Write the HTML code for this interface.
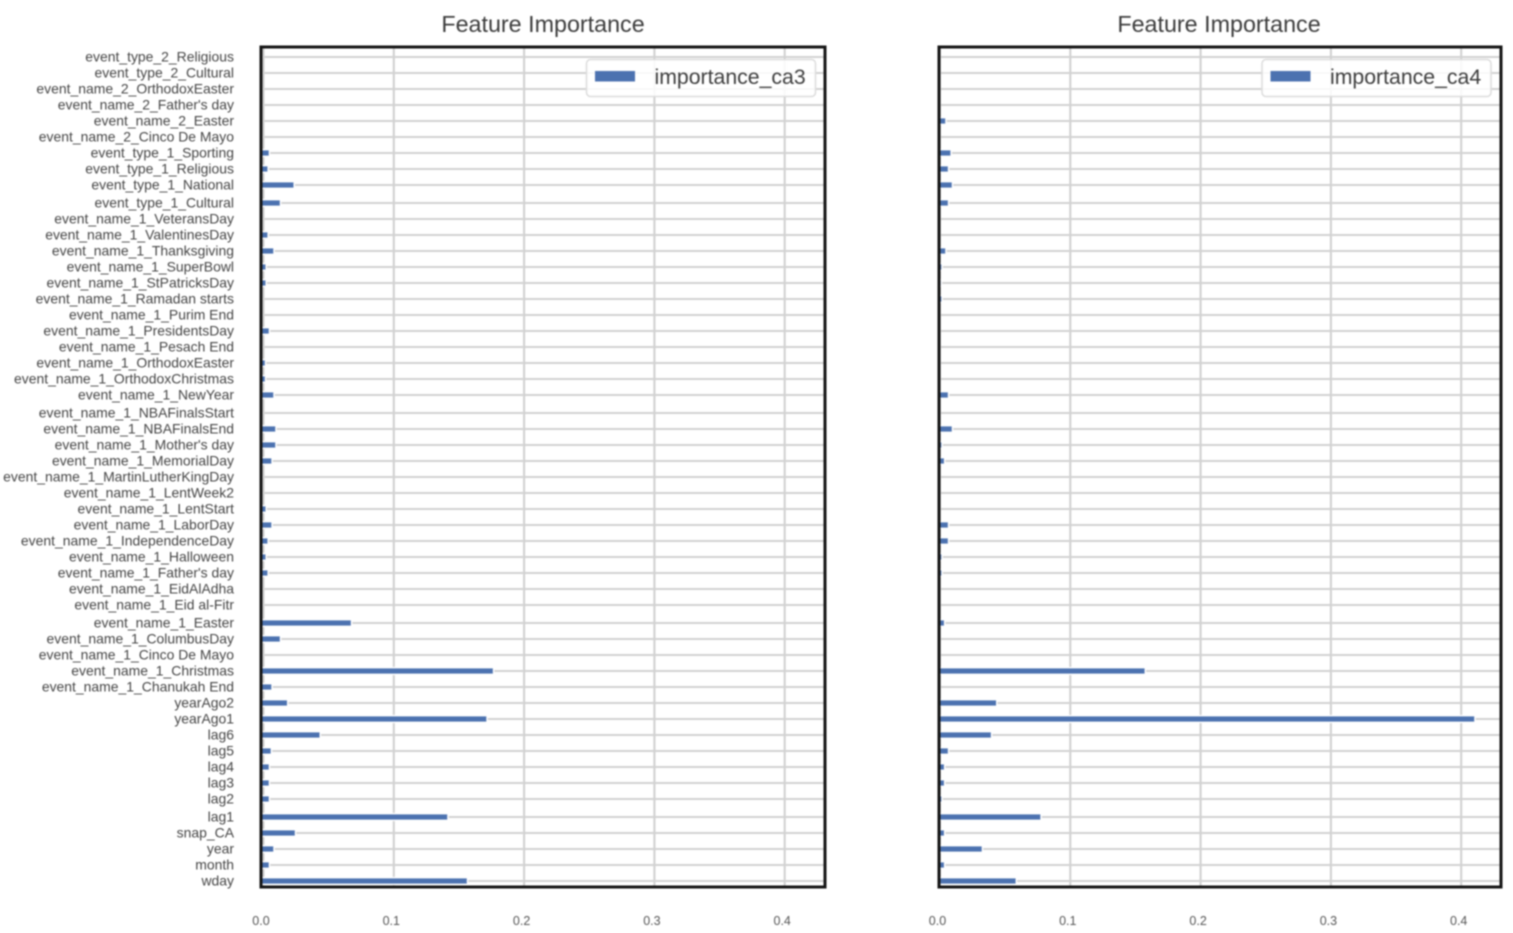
<!DOCTYPE html>
<html>
<head>
<meta charset="utf-8">
<title>Feature Importance</title>
<style>
html,body{margin:0;padding:0;background:#fff;width:1513px;height:933px;overflow:hidden}
svg{display:block;filter:blur(0.7px)}
text{font-family:"Liberation Sans",sans-serif}
</style>
</head>
<body>
<svg id="figure" xmlns="http://www.w3.org/2000/svg" width="1513" height="933" viewBox="0 0 1513 933"></svg>
<script>
const categories = ["event_type_2_Religious","event_type_2_Cultural","event_name_2_OrthodoxEaster","event_name_2_Father's day","event_name_2_Easter","event_name_2_Cinco De Mayo","event_type_1_Sporting","event_type_1_Religious","event_type_1_National","event_type_1_Cultural","event_name_1_VeteransDay","event_name_1_ValentinesDay","event_name_1_Thanksgiving","event_name_1_SuperBowl","event_name_1_StPatricksDay","event_name_1_Ramadan starts","event_name_1_Purim End","event_name_1_PresidentsDay","event_name_1_Pesach End","event_name_1_OrthodoxEaster","event_name_1_OrthodoxChristmas","event_name_1_NewYear","event_name_1_NBAFinalsStart","event_name_1_NBAFinalsEnd","event_name_1_Mother's day","event_name_1_MemorialDay","event_name_1_MartinLutherKingDay","event_name_1_LentWeek2","event_name_1_LentStart","event_name_1_LaborDay","event_name_1_IndependenceDay","event_name_1_Halloween","event_name_1_Father's day","event_name_1_EidAlAdha","event_name_1_Eid al-Fitr","event_name_1_Easter","event_name_1_ColumbusDay","event_name_1_Cinco De Mayo","event_name_1_Christmas","event_name_1_Chanukah End","yearAgo2","yearAgo1","lag6","lag5","lag4","lag3","lag2","lag1","snap_CA","year","month","wday"];
const importanceCa3 = [0,0,0,0,0,0,0.004,0.003,0.023,0.0125,0,0.003,0.0075,0.0015,0.0015,0,0,0.004,0,0.001,0.001,0.0075,0,0.009,0.009,0.006,0,0,0.0015,0.006,0.003,0.0015,0.003,0,0,0.067,0.0125,0,0.176,0.006,0.018,0.171,0.043,0.0055,0.004,0.004,0.004,0.141,0.024,0.0075,0.004,0.156];
const importanceCa4 = [0,0,0,0,0.004,0,0.008,0.006,0.009,0.006,0,0,0.004,0.001,0.0005,0.001,0,0,0,0,0,0.006,0,0.009,0.001,0.003,0,0,0,0.006,0.006,0.001,0.001,0,0,0.003,0,0,0.157,0,0.043,0.41,0.039,0.006,0.003,0.003,0.001,0.077,0.003,0.032,0.003,0.058];
const xTickValues = [0, 0.1, 0.2, 0.3, 0.4];
const xTickLabels = ["0.0", "0.1", "0.2", "0.3", "0.4"];
const chartTitles = ["Feature Importance", "Feature Importance"];
const seriesNames = ["importance_ca3", "importance_ca4"];

const NS = "http://www.w3.org/2000/svg";
const fig = document.getElementById("figure");
const UNIT = 1303;
/* category axis: 16px per row, with the 2px steps the resampled source image shows */
const yScale = i => 57 + 16 * i + 2 * Math.floor((i + 4) / 12.7);

function mk(parent, tag, attrs, txt) {
  const el = document.createElementNS(NS, tag);
  for (const k in attrs) el.setAttribute(k, attrs[k]);
  if (txt !== undefined) el.textContent = txt;
  parent.appendChild(el);
  return el;
}

function drawPanel(p) {
  const xScale = v => p.x0 + v * UNIT;
  const g = mk(fig, "g", {});
  
  

  const title = mk(g, "text", {x: p.titleX, y: 32, "text-anchor": "middle", "font-size": 23.3, fill: "#3c3c3c"}, p.title);
  
  

  xTickValues.forEach((v, i) => {
    const line = mk(g, "line", {x1: xScale(v), x2: xScale(v), y1: p.top, y2: p.bottom, stroke: "#cfcfcf", "stroke-width": 2});
    
    
    const t = mk(g, "text", {x: xScale(v) - 2.5, y: 925, "text-anchor": "middle", "font-size": 12.5, fill: "#555"}, xTickLabels[i]);
    
    
  });

  categories.forEach((c, i) => {
    const line = mk(g, "line", {x1: p.left, x2: p.right, y1: yScale(i), y2: yScale(i), stroke: "#d2d2d2", "stroke-width": 2});
    
    
  });

  categories.forEach((c, i) => {
    const w = Math.max(0, xScale(p.values[i]) - p.x0);
    const inset = w > 0 ? 1.5 : 0;
    const bar = mk(g, "rect", {x: p.x0 - inset, y: yScale(i) - 2.6, width: w + inset, height: 5.2, fill: "#4c72b0", stroke: "#fff", "stroke-width": 3, "paint-order": "stroke"});
    
    
    if (p.showLabels) {
      const t = mk(g, "text", {x: 234, y: yScale(i) + 4.6, "text-anchor": "end", "font-size": 13.95, fill: "#454545"}, c);
      
      
    }
  });

  const frame = mk(g, "rect", {x: p.left, y: p.top, width: p.right - p.left, height: p.bottom - p.top, fill: "none", stroke: "#141414", "stroke-width": 3});
  
  

  const lg = mk(g, "g", {});
  
  
  mk(lg, "rect", {x: p.legendX, y: 59.5, width: 229, height: 37, rx: 4, fill: "#fff", "fill-opacity": 0.85, stroke: "#dcdcdc", "stroke-width": 1.5});
  const sw = mk(lg, "rect", {x: p.legendX + 8.5, y: 71, width: 40, height: 10.5, fill: "#4c72b0"});
  
  
  const lt = mk(lg, "text", {x: p.legendX + 68, y: 84, "font-size": 21.25, fill: "#3c3c3c"}, p.series);
  
  
}

drawPanel({key: "ca3", title: chartTitles[0], series: seriesNames[0], values: importanceCa3, x0: 263.5, left: 261, right: 825, top: 47, bottom: 887, titleX: 543, legendX: 586.5, showLabels: true});
drawPanel({key: "ca4", title: chartTitles[1], series: seriesNames[1], values: importanceCa4, x0: 940, left: 939, right: 1501, top: 47, bottom: 887, titleX: 1219, legendX: 1262, showLabels: false});
</script>
</body>
</html>
